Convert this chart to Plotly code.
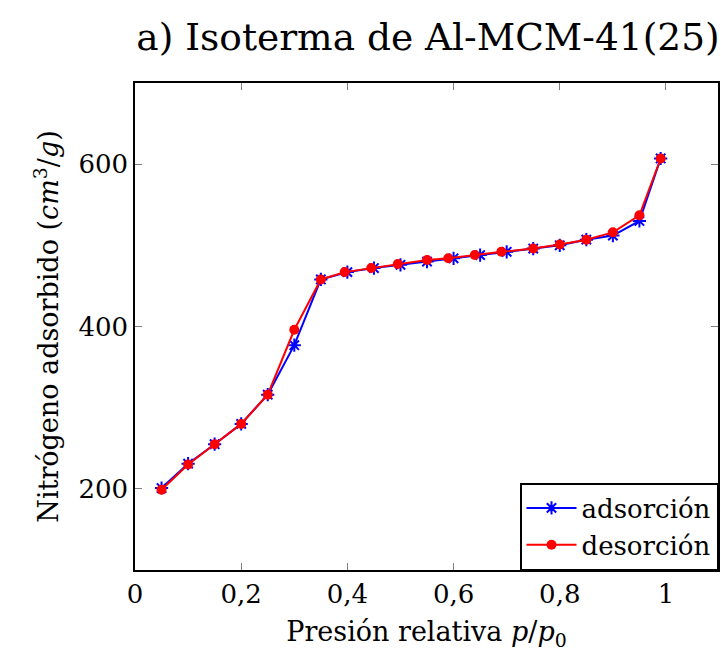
import plotly.graph_objects as go

# Data
ads_p = [0.05, 0.10, 0.15, 0.20, 0.25, 0.30, 0.35, 0.40, 0.45, 0.50,
         0.55, 0.60, 0.65, 0.70, 0.75, 0.80, 0.85, 0.90, 0.95, 0.99]
ads_v = [201, 231, 255, 280, 316, 377, 458, 467, 472, 476,
         480, 484, 488, 492, 496, 500, 507, 512, 530, 607]
des_p = [0.99, 0.95, 0.90, 0.85, 0.80, 0.75, 0.69, 0.64, 0.59, 0.55,
         0.495, 0.445, 0.395, 0.35, 0.30, 0.25, 0.20, 0.15, 0.10, 0.05]
des_v = [607, 537, 516, 507, 501, 496, 492, 488, 484, 482,
         477, 472, 467, 458, 396, 316, 280, 255, 230, 199]

x_ticks = [0, 0.2, 0.4, 0.6, 0.8, 1.0]
y_ticks = [200, 400, 600]

FONT = "DejaVu Serif"

fig = go.Figure()
fig.add_trace(go.Scatter(
    x=ads_p, y=ads_v, mode="lines+markers", name="adsorción",
    line=dict(color="blue", width=2),
    marker=dict(symbol="asterisk-open", size=11, color="blue",
                line=dict(color="blue", width=2)),
))
fig.add_trace(go.Scatter(
    x=des_p, y=des_v, mode="lines+markers", name="desorción",
    line=dict(color="red", width=2),
    marker=dict(symbol="circle", size=10, color="red"),
))

fig.update_layout(
    width=721, height=667,
    margin=dict(l=135, r=1, t=83, b=97),
    paper_bgcolor="white", plot_bgcolor="white",
    separators=",.",
    font=dict(family=FONT, size=28, color="black"),
    title=dict(text="a) Isoterma de Al-MCM-41(25)", font=dict(family=FONT, size=37.5),
               xref="container", yref="container", x=428 / 721, y=1 - 37 / 667,
               xanchor="center", yanchor="middle"),
    legend=dict(x=1, y=0, xanchor="right", yanchor="bottom",
                bordercolor="black", borderwidth=1.5, bgcolor="white",
                font=dict(family=FONT, size=26), tracegroupgap=0,
                itemwidth=50),
    xaxis=dict(range=[0, 1.098], tickvals=x_ticks, ticks="inside", ticklen=7,
               tickcolor="gray", tickwidth=1, showline=True, linecolor="black",
               linewidth=1.5, mirror="ticks", showgrid=False, zeroline=False,
               tickfont=dict(family=FONT, size=26),
               title=dict(text="Presión relativa <i>p</i>/<i>p</i><sub>0</sub>",
                          font=dict(family=FONT, size=27), standoff=14)),
    yaxis=dict(range=[100, 700], tickvals=y_ticks, ticks="inside", ticklen=7,
               tickcolor="gray", tickwidth=1, showline=True, linecolor="black",
               linewidth=1.5, mirror="ticks", showgrid=False, zeroline=False,
               tickfont=dict(family=FONT, size=26),
               title=dict(text="Nitrógeno adsorbido (<i>cm</i><sup>3</sup>/<i>g</i>)",
                          font=dict(family=FONT, size=27), standoff=12)),
)

fig.write_html("out.html")
